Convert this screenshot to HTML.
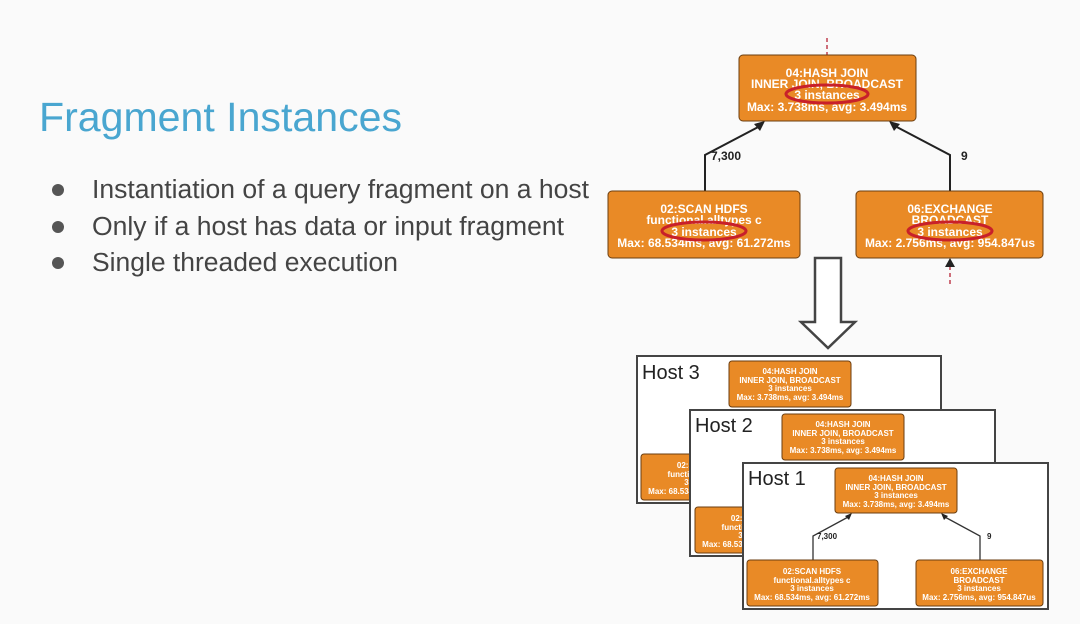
<!DOCTYPE html>
<html><head><meta charset="utf-8"><style>
html,body{margin:0;padding:0;background:#fafafa;}
svg{display:block;font-family:"Liberation Sans",Arial,sans-serif;}
</style></head><body>
<svg width="1080" height="624" viewBox="0 0 1080 624" xmlns="http://www.w3.org/2000/svg">
<rect width="1080" height="624" fill="#fafafa"/>
<text x="39" y="131" font-size="41" fill="#49a6d0" textLength="363" lengthAdjust="spacingAndGlyphs">Fragment Instances</text>
<g font-size="25.5" fill="#444">
<circle cx="58" cy="190" r="6" fill="#555"/><text x="92" y="198" textLength="497" lengthAdjust="spacingAndGlyphs">Instantiation of a query fragment on a host</text>
<circle cx="58" cy="227" r="6" fill="#555"/><text x="92" y="235" textLength="472" lengthAdjust="spacingAndGlyphs">Only if a host has data or input fragment</text>
<circle cx="58" cy="263" r="6" fill="#555"/><text x="92" y="271" textLength="306" lengthAdjust="spacingAndGlyphs">Single threaded execution</text>
</g>

<!-- top diagram -->
<line x1="827" y1="38" x2="827" y2="55" stroke="#c04050" stroke-width="1.5" stroke-dasharray="4,3"/>
<line x1="950" y1="266" x2="950" y2="286" stroke="#c04050" stroke-width="1.5" stroke-dasharray="4,3"/>
<polygon points="950,258 945,267 955,267" fill="#222"/>
<polyline points="705,191 705,155 762,125" fill="none" stroke="#222" stroke-width="2"/>
<polygon points="765,121 754,124 760,131" fill="#222"/>
<polyline points="950,191 950,155 893,125" fill="none" stroke="#222" stroke-width="2"/>
<polygon points="889,121 900,124 894,131" fill="#222"/>
<text x="711" y="160" font-size="12" font-weight="bold" fill="#222">7,300</text>
<text x="961" y="160" font-size="12" font-weight="bold" fill="#222">9</text>

<g fill="#fff" font-weight="bold" text-anchor="middle" font-size="12">
<rect x="739" y="55" width="177" height="66" rx="4" fill="#e98a26" stroke="#6b3e10" stroke-width="1"/>
<text x="827" y="77">04:HASH JOIN</text>
<text x="827" y="88">INNER JOIN, BROADCAST</text>
<text x="827" y="99">3 instances</text>
<text x="827" y="111">Max: 3.738ms, avg: 3.494ms</text>
<rect x="608" y="191" width="192" height="67" rx="4" fill="#e98a26" stroke="#6b3e10" stroke-width="1"/>
<text x="704" y="213">02:SCAN HDFS</text>
<text x="704" y="224">functional.alltypes c</text>
<text x="704" y="236">3 instances</text>
<text x="704" y="247">Max: 68.534ms, avg: 61.272ms</text>
<rect x="856" y="191" width="187" height="67" rx="4" fill="#e98a26" stroke="#6b3e10" stroke-width="1"/>
<text x="950" y="213">06:EXCHANGE</text>
<text x="950" y="224">BROADCAST</text>
<text x="950" y="236">3 instances</text>
<text x="950" y="247">Max: 2.756ms, avg: 954.847us</text>
</g>
<g fill="none" stroke="#c8202a" stroke-width="3">
<ellipse cx="827" cy="94" rx="41" ry="9"/>
<ellipse cx="704" cy="231" rx="42" ry="9"/>
<ellipse cx="950" cy="231" rx="42" ry="9"/>
</g>

<!-- hollow arrow -->
<polygon points="815,258 841,258 841,322 855,322 828,348 801,322 815,322" fill="#fff" stroke="#444" stroke-width="2.5"/>

<!-- host frames -->
<g font-weight="bold" fill="#fff" text-anchor="middle" font-size="8">
<rect x="637" y="356" width="304" height="147" fill="#fff" stroke="#444" stroke-width="2"/>
<text x="642" y="379" font-size="20" font-weight="normal" fill="#222" text-anchor="start">Host 3</text>
<rect x="729" y="361" width="122" height="46" rx="3" fill="#e98a26" stroke="#6b3e10"/>
<text x="790" y="374">04:HASH JOIN</text><text x="790" y="383">INNER JOIN, BROADCAST</text><text x="790" y="391">3 instances</text><text x="790" y="400">Max: 3.738ms, avg: 3.494ms</text>
<rect x="641" y="454" width="130" height="46" rx="3" fill="#e98a26" stroke="#6b3e10"/>
<text x="706" y="468">02:SCAN HDFS</text><text x="706" y="477">functional.alltypes c</text><text x="706" y="485">3 instances</text><text x="706" y="494">Max: 68.534ms, avg: 61.272ms</text>

<rect x="690" y="410" width="305" height="146" fill="#fff" stroke="#444" stroke-width="2"/>
<text x="695" y="432" font-size="20" font-weight="normal" fill="#222" text-anchor="start">Host 2</text>
<rect x="782" y="414" width="122" height="46" rx="3" fill="#e98a26" stroke="#6b3e10"/>
<text x="843" y="427">04:HASH JOIN</text><text x="843" y="436">INNER JOIN, BROADCAST</text><text x="843" y="444">3 instances</text><text x="843" y="453">Max: 3.738ms, avg: 3.494ms</text>
<rect x="695" y="507" width="130" height="46" rx="3" fill="#e98a26" stroke="#6b3e10"/>
<text x="760" y="521">02:SCAN HDFS</text><text x="760" y="530">functional.alltypes c</text><text x="760" y="538">3 instances</text><text x="760" y="547">Max: 68.534ms, avg: 61.272ms</text>

<rect x="743" y="463" width="305" height="146" fill="#fff" stroke="#444" stroke-width="2"/>
<text x="748" y="485" font-size="20" font-weight="normal" fill="#222" text-anchor="start">Host 1</text>
<polyline points="813,560 813,536 850,516" fill="none" stroke="#333" stroke-width="1.3"/>
<polyline points="980,560 980,536 943,516" fill="none" stroke="#333" stroke-width="1.3"/>
<polygon points="852,513 845,516 849,520" fill="#222"/>
<polygon points="941,513 948,516 944,520" fill="#222"/>
<text x="817" y="539" font-size="8" fill="#222" text-anchor="start">7,300</text>
<text x="987" y="539" font-size="8" fill="#222" text-anchor="start">9</text>
<rect x="835" y="468" width="122" height="45" rx="3" fill="#e98a26" stroke="#6b3e10"/>
<text x="896" y="481">04:HASH JOIN</text><text x="896" y="490">INNER JOIN, BROADCAST</text><text x="896" y="498">3 instances</text><text x="896" y="507">Max: 3.738ms, avg: 3.494ms</text>
<rect x="747" y="560" width="131" height="46" rx="3" fill="#e98a26" stroke="#6b3e10"/>
<text x="812" y="574">02:SCAN HDFS</text><text x="812" y="583">functional.alltypes c</text><text x="812" y="591">3 instances</text><text x="812" y="600">Max: 68.534ms, avg: 61.272ms</text>
<rect x="916" y="560" width="127" height="46" rx="3" fill="#e98a26" stroke="#6b3e10"/>
<text x="979" y="574">06:EXCHANGE</text><text x="979" y="583">BROADCAST</text><text x="979" y="591">3 instances</text><text x="979" y="600">Max: 2.756ms, avg: 954.847us</text>
</g>
</svg>
</body></html>
